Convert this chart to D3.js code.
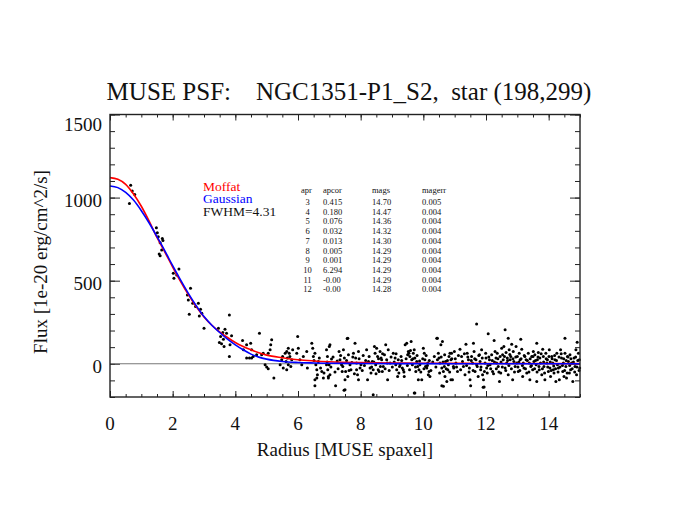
<!DOCTYPE html>
<html><head><meta charset="utf-8">
<script src="https://cdn.jsdelivr.net/npm/d3@7"></script>
<style>body{margin:0;background:#fff} text{font-family:"Liberation Serif","DejaVu Serif",serif}</style>
</head><body><svg id="c" width="675" height="521"></svg>
<script>
// ---------- data ----------
const title = "MUSE PSF:    NGC1351-P1_S2,  star (198,299)";
const xLabel = "Radius [MUSE spaxel]";
const yLabel = "Flux [1e-20 erg/cm^2/s]";
const xTicks = [0, 2, 4, 6, 8, 10, 12, 14];
const yTicks = [0, 500, 1000, 1500];
const xDomain = [0, 15];
const yDomain = [-200, 1500];

const curveR   = [0, 0.25, 0.5, 0.75, 1, 1.25, 1.5, 1.75, 2, 2.25, 2.5, 2.75, 3, 3.25, 3.5, 3.75, 4, 4.25, 4.5, 4.75, 5, 5.5, 6, 6.5, 7, 8, 9, 10, 12, 15];
const moffat   = [1120, 1110, 1080, 1022, 948, 858, 760, 672, 582, 496, 416, 344, 282, 232, 192, 158, 128, 104, 84, 66, 52, 36, 24, 17, 12, 7, 5, 3, 2, 1];
const gaussian = [1070, 1060, 1031, 985, 921, 847, 765, 680, 590, 505, 424, 350, 284, 232, 188, 148, 114, 84, 58, 40, 28, 14, 8, 5, 3, 2, 1, 1, 0, 0];

const legendLabels = ["Moffat", "Gaussian", "FWHM=4.31"];

const tableHeader = ["apr", "apcor", "mags", "magerr"];
const apr    = [3, 4, 5, 6, 7, 8, 9, 10, 11, 12];
const apcor  = ["0.415", "0.180", "0.076", "0.032", "0.013", "0.005", "0.001", "6.294", "-0.00", "-0.00"];
const mags   = ["14.70", "14.47", "14.36", "14.32", "14.30", "14.29", "14.29", "14.29", "14.29", "14.28"];
const magerr = ["0.005", "0.004", "0.004", "0.004", "0.004", "0.004", "0.004", "0.004", "0.004", "0.004"];

// profile points [radius, flux]
const corePoints = [
 [0.62,964],[0.66,1074],[0.71,1040],[0.79,1018],
 [1.48,818],[1.51,788],[1.54,764],[1.67,754],[1.69,742],[1.60,728],[1.65,684],[1.57,660],[1.60,650],
 [2.02,544],[2.20,570],[2.04,514],[2.13,534],
 [2.57,454],[2.47,414],[2.50,384],[2.53,298],[2.64,364],[2.73,344],[2.82,364],[2.89,328],[2.85,288],[2.93,304],[3.00,214],
 [3.46,214],[3.60,188],[3.67,208],[3.72,184],[3.53,164],[3.62,148],[3.49,128],[3.56,120],[3.88,168],[3.83,114],[3.81,44],[3.64,104],[3.81,294],
 [4.77,184],[4.23,140],[4.36,114],[4.49,124],[4.26,84],[4.52,84],[4.36,34],[4.45,34],[4.52,34],[4.57,44],[4.68,54],[4.84,54],[4.89,64],
 [5.05,64],[5.13,114],[5.16,144],[5.11,84],[4.95,-6],[5.00,-20],[5.05,-30],[5.23,-86]
];
const midPoints = [
 [5.43,-6],[5.48,24],[5.51,44],[5.59,64],[5.64,74],[5.69,94],[5.72,64],[5.66,34],[5.74,44],[5.62,14],[5.69,-6],[5.77,-16],[5.64,-36],[5.53,-26],
 [5.80,24],[5.83,84],[5.96,64],[5.99,164],[6.01,94],[6.06,24],[6.12,-6],[6.17,44],[6.28,74],[6.30,-26],[6.44,124],[6.47,94],[6.49,44],[6.51,20],
 [6.54,64],[6.57,-6],[6.60,-36],[6.62,-66],[6.54,-96],[6.65,14],[6.68,34],[6.72,-26],[6.76,-46],[6.54,-132],[6.60,-86],[6.81,-86],[6.83,-56],
 [6.91,-6],[6.94,44],[6.97,-76],[7.00,104],[7.57,152],[10.45,154],[7.47,-160],[9.73,-176],[11.91,-142],[10.64,-136]
];
const outerPoints = [
 [7.02,114],[6.91,84],[7.07,28],[6.99,-6],[6.95,-36],[7.02,-66],[6.97,-86],[7.20,-132],[7.31,74],[7.34,24],[7.39,-6],[7.45,84],[7.48,34],[7.41,-46],
 [7.52,-46],[7.59,-76],[7.50,-96],[7.59,154],[7.61,54],[7.66,-6],[7.69,-36],[7.77,64],[7.82,124],[7.84,34],[7.87,4],[7.93,74],[7.87,-36],[7.90,-66],
 [7.98,-26],[7.93,-96],[8.01,-6],[8.19,84],[8.22,-96],[8.25,14],[8.30,-26],[8.33,-56],[8.37,14],[8.40,-36],[8.44,104],[8.46,64],[8.48,-6],[8.51,94],
 [8.54,44],[8.56,-36],[8.59,-46],[8.62,74],[8.65,34],[8.67,24],[8.69,-46],[8.72,-16],[8.76,54],[8.80,114],[8.83,24],[8.86,-96],[8.88,84],[8.94,4],
 [9.04,64],[9.10,34],[9.12,-6],[9.15,-36],[9.18,-76],[9.20,24],[9.22,-56],[9.26,-6],[9.29,44],[9.33,-26],[9.36,-36],[9.39,-76],[9.42,114],[9.47,124],
 [9.50,54],[9.52,74],[9.54,64],[9.57,44],[9.61,134],[9.63,24],[9.65,-6],[9.68,64],[9.71,84],[9.73,34],[9.76,-46],[9.79,14],[9.82,-16],[9.84,-96],
 [9.86,-36],[9.89,-6],[9.95,-96],[10.00,94],[10.03,64],[10.05,24],[10.07,-16],[10.11,-26],[10.14,4],[10.16,-66],[10.18,-46],[10.21,-76],[10.43,154],
 [10.48,64],[10.50,34],[10.53,4],[10.56,114],[10.59,-26],[10.61,134],[10.64,-46],[10.67,-16],[10.69,-76],[10.71,14],[10.75,-106],[10.78,-36],
 [10.80,-6],[10.82,44],[10.85,64],[10.88,24],[10.93,-96],[10.96,-16],[10.99,74],[7.50,-156],[8.40,-186],[9.71,-176],[10.59,-132],
 [11.70,240],[12.61,204],[12.07,180],[14.52,154],[12.26,140],[12.71,154],[13.11,148],[13.62,124],[14.91,130],[10.90,64],[10.88,-96],[11.04,4],
 [11.09,-46],[11.17,88],[11.22,44],[11.28,-16],[11.33,-66],[11.36,118],[11.40,64],[11.44,24],[11.47,-26],[11.49,-96],[11.51,-132],[11.54,44],
 [11.57,4],[11.60,124],[11.62,74],[11.65,-46],[11.68,24],[11.72,-16],[11.75,-76],[11.79,54],[11.81,14],[11.83,-36],[11.86,84],[11.89,-66],
 [11.92,-96],[11.94,-140],[11.97,4],[12.00,34],[12.02,-26],[12.04,-56],[12.11,24],[12.13,-6],[12.18,54],[12.21,-46],[12.29,74],[12.32,34],
 [12.34,4],[12.36,64],[12.39,-16],[12.43,-106],[12.45,44],[12.47,-56],[12.50,94],[12.53,54],[12.55,24],[12.57,104],[12.61,-26],[12.64,68],
 [12.66,4],[12.68,34],[12.71,-66],[12.74,84],[12.77,24],[12.79,44],[12.82,118],[12.85,-96],[12.87,74],[12.89,14],[12.93,-16],[12.96,104],
 [12.98,4],[13.00,44],[13.03,-46],[13.06,64],[13.09,24],[13.14,88],[13.17,-76],[13.19,4],[13.21,-26],[13.24,44],[13.28,24],[13.30,-56],
 [13.35,64],[13.38,4],[13.40,-96],[13.43,-16],[13.46,44],[13.49,-36],[13.51,74],[13.53,14],[13.56,54],[13.60,-6],[13.62,-106],[13.64,24],
 [13.67,68],[13.70,-36],[13.72,34],[13.74,4],[13.78,-66],[13.81,88],[13.83,44],[13.85,-16],[13.88,-96],[13.91,64],[13.94,4],[13.96,24],
 [13.99,-46],[14.02,84],[14.04,-26],[14.06,-76],[14.10,44],[14.13,4],[14.15,-36],[14.17,-56],[14.20,24],[14.23,-106],[14.26,64],[14.28,-6],
 [14.31,-26],[14.34,-96],[14.38,84],[14.41,34],[14.45,-46],[14.47,4],[14.49,-76],[14.52,64],[14.55,-16],[14.57,-86],[14.60,44],[14.63,14],
 [14.66,-56],[14.68,54],[14.70,-36],[14.73,4],[14.77,-106],[14.81,34],[14.84,-16],[14.87,84],[14.89,-66],[14.95,64],[14.98,24],[14.99,-26]
];
const bandPoints = [
 [6.93,10],[7.05,-20],[7.12,40],[7.18,-50],[7.25,16],[7.28,-30],[7.36,50],[7.43,-16],[7.55,20],[7.63,-40],[7.72,8],[7.75,40],[7.80,-60],[7.95,30],
 [8.05,-40],[8.08,50],[8.12,-10],[8.16,20],[8.27,44],[8.35,-20],[8.42,10],[8.49,-60],[8.57,30],[8.63,-16],[8.70,60],[8.78,-30],[8.85,4],[8.91,-40],
 [8.97,40],[9.01,-20],[9.07,10],[9.13,60],[9.24,-16],[9.31,20],[9.38,-50],[9.45,30],[9.49,-10],[9.56,-36],[9.59,80],[9.67,30],[9.75,-20],[9.80,50],
 [9.88,16],[9.92,-50],[9.98,30],[10.02,-30],[10.09,50],[10.13,-10],[10.19,20],[10.24,-40],[10.30,10],[10.35,44],[10.40,-20],[10.45,24],[10.52,-56],
 [10.57,40],[10.63,10],[10.68,54],[10.73,-30],[10.77,20],[10.84,-50],[10.91,30],[10.97,-26],
 [11.02,30],[11.06,-20],[11.12,50],[11.19,-36],[11.25,14],[11.31,60],[11.38,-10],[11.42,40],[11.46,-50],[11.53,20],[11.59,-40],[11.64,30],[11.70,-6],
 [11.77,50],[11.84,-20],[11.88,34],[11.95,-46],[11.99,64],[12.06,-10],[12.09,40],[12.15,-30],[12.20,20],[12.24,-60],[12.27,10],[12.33,-30],[12.38,30],
 [12.41,-50],[12.48,10],[12.52,-20],[12.59,44],[12.63,-40],[12.69,20],[12.73,-10],[12.76,56],[12.81,-30],[12.86,30],[12.91,-50],[12.95,40],[13.02,-20],
 [13.05,10],[13.08,-40],[13.12,30],[13.16,-10],[13.22,50],[13.26,-30],[13.32,20],[13.37,-50],[13.41,30],[13.45,-10],[13.50,44],[13.55,-30],[13.58,20],
 [13.63,-50],[13.66,40],[13.69,-16],[13.76,60],[13.80,-30],[13.84,10],[13.87,-56],[13.92,30],[13.97,-20],[14.01,44],[14.05,10],[14.08,-40],[14.11,30],
 [14.16,-14],[14.19,50],[14.22,-30],[14.25,20],[14.30,-50],[14.33,40],[14.36,-20],[14.40,60],[14.44,-10],[14.48,30],[14.51,-40],[14.56,20],[14.59,-56],
 [14.62,40],[14.67,-10],[14.71,30],[14.75,-30],[14.79,10],[14.83,-50],[14.86,40],[14.90,-20],[14.93,20],[14.97,-40]
];

// ---------- drawing ----------
const svg = d3.select("#c");
const L = 110, R = 580, T = 114.5, B = 397;
const x = d3.scaleLinear().domain(xDomain).range([L, R]);
const y = d3.scaleLinear().domain(yDomain).range([B, T]);

// title
svg.append("text").attr("x", 349).attr("y", 100).attr("text-anchor", "middle")
  .style("white-space", "pre").attr("font-size", 25).attr("fill", "#111").text(title);

// axes ticks (inward, on all four sides)
const xMinor = d3.range(0, 15.01, 0.5);
const yMinor = d3.range(-200, 1500.1, 100);
function tickAxis(gen, tr, vals, size) {
  const g = svg.append("g").attr("transform", tr)
    .call(gen.tickValues(vals).tickSize(size).tickFormat(""));
  g.select(".domain").remove();
  g.selectAll("line").attr("stroke", "#222").attr("stroke-width", 1);
}
tickAxis(d3.axisBottom(x), `translate(0,${B})`, xMinor, -3);
tickAxis(d3.axisBottom(x), `translate(0,${B})`, xTicks, -6);
tickAxis(d3.axisTop(x), `translate(0,${T})`, xMinor, -3);
tickAxis(d3.axisTop(x), `translate(0,${T})`, xTicks, -6);
tickAxis(d3.axisLeft(y), `translate(${L},0)`, yMinor, -5);
tickAxis(d3.axisLeft(y), `translate(${L},0)`, yTicks, -10);
tickAxis(d3.axisRight(y), `translate(${R},0)`, yMinor, -5);
tickAxis(d3.axisRight(y), `translate(${R},0)`, yTicks, -10);

// tick labels
svg.append("g").selectAll("text").data(xTicks).join("text")
  .attr("x", d => x(d)).attr("y", B + 33).attr("text-anchor", "middle")
  .attr("font-size", 19).attr("fill", "#111").text(d => d);
svg.append("g").selectAll("text").data(yTicks).join("text")
  .attr("x", L - 8).attr("y", d => Math.max(y(d) + 9.5, T + 16)).attr("text-anchor", "end")
  .attr("font-size", 19).attr("fill", "#111").text(d => d);

// axis titles
svg.append("text").attr("x", (L + R) / 2).attr("y", 456).attr("text-anchor", "middle")
  .attr("font-size", 19).attr("fill", "#111").text(xLabel);
svg.append("text").attr("transform", "translate(47,262) rotate(-90)").attr("text-anchor", "middle")
  .attr("font-size", 19).attr("fill", "#111").text(yLabel);

// zero line
svg.append("line").attr("x1", L).attr("x2", R).attr("y1", y(0)).attr("y2", y(0))
  .attr("stroke", "#777").attr("stroke-width", 1.2);

// points
const allPts = corePoints.concat(midPoints, outerPoints, bandPoints);
svg.append("g").selectAll("circle").data(allPts).join("circle")
  .attr("cx", d => x(d[0])).attr("cy", d => y(d[1])).attr("r", 1.5).attr("fill", "#000");

// curves
const line = d3.line().x(d => x(d[0])).y(d => y(d[1])).curve(d3.curveMonotoneX);
svg.append("path").datum(curveR.map((r, i) => [r, moffat[i]])).attr("d", line)
  .attr("fill", "none").attr("stroke", "#ff0000").attr("stroke-width", 1.6);
svg.append("path").datum(curveR.map((r, i) => [r, gaussian[i]])).attr("d", line)
  .attr("fill", "none").attr("stroke", "#0000ff").attr("stroke-width", 1.6);

// frame
svg.append("rect").attr("x", L).attr("y", T).attr("width", R - L).attr("height", B - T)
  .attr("fill", "none").attr("stroke", "#222").attr("stroke-width", 1.4);

// legend
const legColors = ["#ff0000", "#0000ff", "#111"];
svg.append("g").selectAll("text").data(legendLabels).join("text")
  .attr("x", 203).attr("y", (d, i) => 190.5 + i * 12.5).attr("font-size", 13.5)
  .attr("fill", (d, i) => legColors[i]).text(d => d);

// table
const colX = [301, 323, 372, 422];
const tg = svg.append("g").attr("font-size", 8.5).attr("fill", "#111");
tg.selectAll("text.h").data(tableHeader).join("text").attr("class", "h")
  .attr("x", (d, i) => colX[i]).attr("y", 192.5).text(d => d);
const rows = apr.map((a, i) => [a, apcor[i], mags[i], magerr[i]]);
rows.forEach((row, i) => {
  const yy = 205 + i * 9.7;
  tg.append("text").attr("x", 307.5).attr("y", yy).attr("text-anchor", "middle").text(row[0]);
  tg.append("text").attr("x", colX[1]).attr("y", yy).text(row[1]);
  tg.append("text").attr("x", colX[2]).attr("y", yy).text(row[2]);
  tg.append("text").attr("x", colX[3]).attr("y", yy).text(row[3]);
});
</script>
</body></html>
